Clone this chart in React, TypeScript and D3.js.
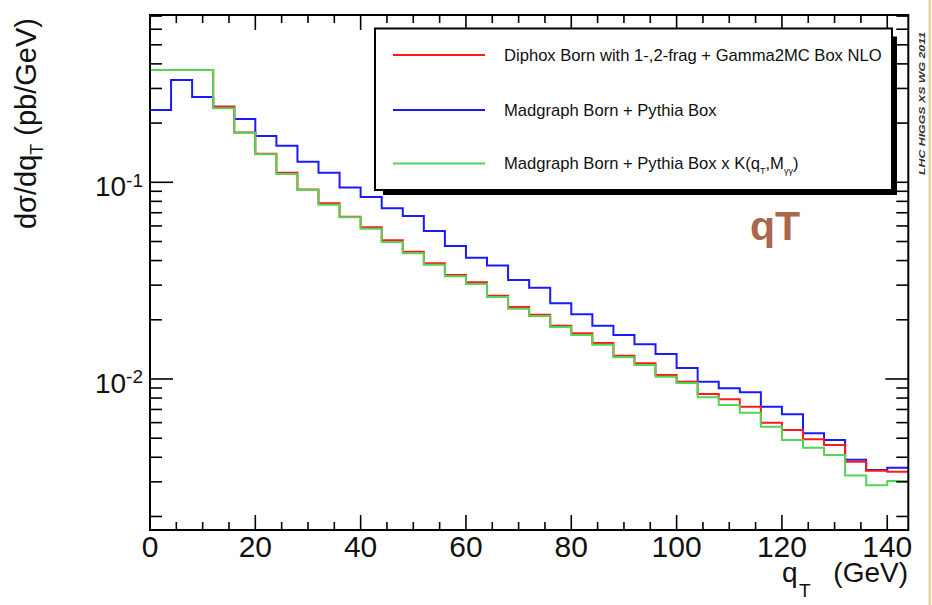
import React from "react";
import * as d3 from "d3";

// ---------- data ----------
const binLow = [0, 4, 8, 12, 16, 20, 24, 28, 32, 36, 40, 44, 48, 52, 56, 60, 64, 68, 72, 76, 80, 84, 88, 92, 96, 100, 104, 108, 112, 116, 120, 124, 128, 132, 136, 140];
const binWidth = 4;

const diphox = [0.3724, 0.3724, 0.3724, 0.2423, 0.1791, 0.1398, 0.1119, 0.0919, 0.0782, 0.0668, 0.059, 0.0507, 0.0444, 0.0388, 0.0338, 0.031, 0.0265, 0.0232, 0.02123, 0.01866, 0.01708, 0.01524, 0.01313, 0.01202, 0.01048, 0.00969, 0.00839, 0.00788, 0.00723, 0.00599, 0.0055, 0.00494, 0.00462, 0.0038, 0.00342, 0.00338];
const madgraph = [0.2332, 0.3312, 0.2714, 0.2423, 0.2099, 0.1719, 0.1535, 0.1273, 0.1119, 0.0941, 0.0842, 0.0738, 0.0674, 0.0565, 0.0474, 0.0414, 0.0377, 0.0319, 0.0291, 0.02426, 0.02133, 0.01866, 0.01674, 0.01501, 0.0134, 0.01137, 0.00969, 0.00897, 0.00856, 0.00723, 0.00661, 0.0053, 0.0049, 0.00388, 0.00345, 0.00354];
const madgraphK = [0.3724, 0.3724, 0.3724, 0.2378, 0.1787, 0.1388, 0.1102, 0.0914, 0.0769, 0.0664, 0.0581, 0.0497, 0.0436, 0.0381, 0.0333, 0.0304, 0.0261, 0.02278, 0.02091, 0.01838, 0.01674, 0.01494, 0.0129, 0.01178, 0.01027, 0.00954, 0.00807, 0.00738, 0.00674, 0.00572, 0.0049, 0.00447, 0.00411, 0.00323, 0.00288, 0.00303];

const xTickLabels = [0, 20, 40, 60, 80, 100, 120, 140];
const yTickExponents = [-1, -2];

const xDomain = [0, 144];
const yDomain = [0.001707, 0.7088];

// ---------- layout ----------
const W = 932;
const H = 605;
const PL = 150, PR = 908.3, PT = 15, PB = 530;
const FONT = "'Liberation Sans', Arial, Helvetica, sans-serif";

const COL_RED = "#ff1a1a";
const COL_BLUE = "#1a1aff";
const COL_GREEN = "#55d455";

export default function App() {
  const x = d3.scaleLinear().domain(xDomain).range([PL, PR]);
  const y = d3.scaleLog().domain(yDomain).range([PB, PT]);

  const stepLine = d3
    .line<[number, number]>()
    .x((d) => x(d[0]))
    .y((d) => y(d[1]))
    .curve(d3.curveStepAfter);

  const histPath = (vals: number[]) => {
    const pts: [number, number][] = binLow.map((b, i) => [b, vals[i]]);
    pts.push([binLow[binLow.length - 1] + binWidth, vals[vals.length - 1]]);
    return stepLine(pts) || "";
  };

  const xTicks = d3.range(0, 145, 5);
  const yTicks: { v: number; major: boolean }[] = [];
  for (let d = -3; d <= 0; d++) {
    for (let k = 1; k <= 9; k++) {
      const v = k * Math.pow(10, d);
      if (v >= yDomain[0] && v <= yDomain[1]) yTicks.push({ v, major: k === 1 });
    }
  }

  const legendRows = [
    { color: COL_RED, y: 55, label: <tspan>Diphox Born with 1-,2-frag + Gamma2MC Box NLO</tspan> },
    { color: COL_BLUE, y: 110, label: <tspan>Madgraph Born + Pythia Box</tspan> },
    {
      color: COL_GREEN,
      y: 163.5,
      label: (
        <>
          <tspan>Madgraph Born + Pythia Box x K(q</tspan>
          <tspan fontSize={9} dy={5}>T</tspan>
          <tspan dy={-5}>,M</tspan>
          <tspan fontSize={9} dy={5}>γγ</tspan>
          <tspan dy={-5}>)</tspan>
        </>
      ),
    },
  ];

  return (
    <svg
      width={W}
      height={H}
      viewBox={`0 0 ${W} ${H}`}
      style={{ position: "absolute", left: 0, top: 0, display: "block", background: "#fff" }}
      fontFamily={FONT}
    >
      <rect x={0} y={0} width={W} height={H} fill="#fff" />
      <rect x={928.5} y={0} width={2.5} height={H} fill="#eed3a0" />

      <defs>
        <clipPath id="plotClip">
          <rect x={PL} y={PT} width={PR - PL} height={PB - PT} />
        </clipPath>
      </defs>

      {/* histograms */}
      <g clipPath="url(#plotClip)" fill="none" strokeWidth={2}>
        <path d={histPath(madgraph)} stroke={COL_BLUE} />
        <path d={histPath(diphox)} stroke={COL_RED} />
        <path d={histPath(madgraphK)} stroke={COL_GREEN} />
      </g>

      {/* ticks */}
      <g stroke="#000" strokeWidth={1.6}>
        {xTicks.map((t) => {
          const len = t % 20 === 0 ? 15 : 8;
          return (
            <g key={"xt" + t}>
              <line x1={x(t)} x2={x(t)} y1={PB} y2={PB - len} />
              <line x1={x(t)} x2={x(t)} y1={PT} y2={PT + len} />
            </g>
          );
        })}
        {yTicks.map((t, i) => {
          const len = t.major ? 23 : 12;
          return (
            <g key={"yt" + i}>
              <line x1={PL} x2={PL + len} y1={y(t.v)} y2={y(t.v)} />
              <line x1={PR} x2={PR - len} y1={y(t.v)} y2={y(t.v)} />
            </g>
          );
        })}
      </g>

      {/* frame */}
      <rect x={PL} y={PT} width={PR - PL} height={PB - PT} fill="none" stroke="#000" strokeWidth={2} />

      {/* x tick labels */}
      <g fontSize={30} fill="#111" textAnchor="middle">
        {xTickLabels.map((t) => (
          <text key={"xl" + t} x={x(t)} y={557}>
            {t}
          </text>
        ))}
      </g>

      {/* y tick labels */}
      <g fill="#111" textAnchor="end">
        {yTickExponents.map((e) => (
          <text key={"yl" + e} x={143} y={y(Math.pow(10, e)) + 14} fontSize={28}>
            10
            <tspan fontSize={19} dy={-9.5}>
              {String(e)}
            </tspan>
          </text>
        ))}
      </g>

      {/* x title */}
      <text x={782} y={582} fontSize={28} fill="#111">
        q
      </text>
      <text x={799} y={597} fontSize={19} fill="#111">
        T
      </text>
      <text x={908} y={582} fontSize={28} fill="#111" textAnchor="end">
        (GeV)
      </text>

      {/* y title */}
      <text transform="translate(36,18) rotate(-90)" fontSize={29} fill="#111" textAnchor="end">
        dσ/dq
        <tspan fontSize={18} dy={7}>T</tspan>
        <tspan dy={-7}> (pb/GeV)</tspan>
      </text>

      {/* legend */}
      <rect x={383} y={36.5} width={897 - 383} height={195 - 36.5} fill="#000" />
      <rect x={375} y={28.5} width={892 - 375} height={190 - 28.5} fill="#fff" stroke="#000" strokeWidth={2} />
      {legendRows.map((r, i) => (
        <g key={"lg" + i}>
          <line x1={393} x2={485} y1={r.y} y2={r.y} stroke={r.color} strokeWidth={2} />
          <text x={504} y={r.y + 5.5} fontSize={16.6} fill="#111">
            {r.label}
          </text>
        </g>
      ))}

      {/* qT annotation */}
      <text x={750} y={240} fontSize={41} fontWeight="bold" fill="#a9674b">
        qT
      </text>

      {/* LHC HIGGS XS WG 2011 */}
      <text
        transform="translate(924.5,175) rotate(-90)"
        fontSize={9.5}
        fontWeight="bold"
        fontStyle="italic"
        fill="#333"
        textLength={143}
        lengthAdjust="spacingAndGlyphs"
      >
        LHC HIGGS XS WG 2011
      </text>
    </svg>
  );
}
